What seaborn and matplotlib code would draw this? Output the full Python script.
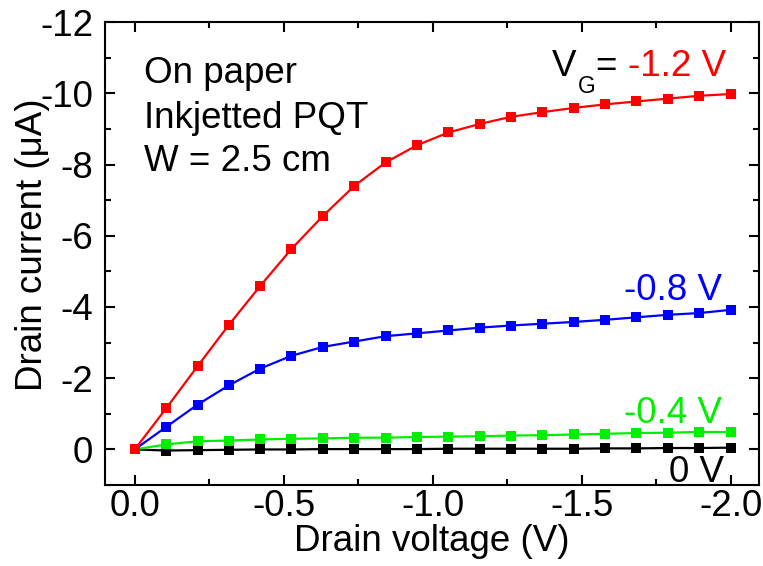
import pandas as pd
import matplotlib
matplotlib.use("Agg")
import matplotlib.pyplot as plt
import seaborn as sns
from matplotlib.ticker import MultipleLocator


# Data (drain current in uA)
drain_voltage = [0.0, -0.105, -0.211, -0.316, -0.421, -0.526, -0.632, -0.737, -0.842, -0.947,
                 -1.053, -1.158, -1.263, -1.368, -1.474, -1.579, -1.684, -1.789, -1.895, -2.0]
gate_labels = ["0 V", "-0.4 V", "-0.8 V", "-1.2 V"]
current_0v = [0.0, 0.03, 0.02, 0.01, 0.0, 0.0, -0.01, -0.01, -0.01, -0.01,
              -0.02, -0.02, -0.02, -0.02, -0.02, -0.03, -0.03, -0.04, -0.04, -0.05]
current_04v = [0.0, -0.14, -0.23, -0.25, -0.28, -0.30, -0.31, -0.33, -0.33, -0.35,
               -0.36, -0.37, -0.39, -0.40, -0.42, -0.44, -0.46, -0.47, -0.49, -0.49]
current_08v = [0.0, -0.63, -1.26, -1.80, -2.27, -2.63, -2.88, -3.03, -3.18, -3.26,
               -3.34, -3.42, -3.48, -3.53, -3.58, -3.64, -3.71, -3.78, -3.83, -3.92]
current_12v = [0.0, -1.15, -2.34, -3.50, -4.59, -5.63, -6.56, -7.40, -8.06, -8.54,
               -8.90, -9.14, -9.34, -9.47, -9.59, -9.69, -9.77, -9.85, -9.93, -9.98]
colors = ["#000000", "#00ee00", "#0000ff", "#ff0000"]

df = pd.DataFrame({
    "vd": drain_voltage * 4,
    "id": current_0v + current_04v + current_08v + current_12v,
    "vg": [g for g in gate_labels for _ in drain_voltage],
})

plt.rcParams["font.family"] = ["Liberation Sans", "DejaVu Sans"]
plt.rcParams["xtick.direction"] = "in"
plt.rcParams["ytick.direction"] = "in"
plt.rcParams["xtick.top"] = True
plt.rcParams["ytick.right"] = True
plt.rcParams["xtick.major.size"] = 7
plt.rcParams["ytick.major.size"] = 7
plt.rcParams["xtick.minor.size"] = 4
plt.rcParams["ytick.minor.size"] = 4
plt.rcParams["xtick.major.width"] = 1.5
plt.rcParams["ytick.major.width"] = 1.5
plt.rcParams["xtick.minor.width"] = 1.5
plt.rcParams["ytick.minor.width"] = 1.5
plt.rcParams["axes.linewidth"] = 1.5

fig = plt.figure(figsize=(7.63, 5.66), dpi=100)
ax = fig.add_axes([0.1376, 0.143, 0.857, 0.818])

sns.lineplot(data=df, x="vd", y="id", hue="vg", hue_order=gate_labels,
             palette=colors, marker="s", markersize=7.5, markeredgewidth=0,
             linewidth=1.6, estimator=None, legend=False, ax=ax)

ax.set_xlim(0.1, -2.095)
ax.set_ylim(1.0, -12)
ax.set_xticks([0, -0.5, -1.0, -1.5, -2.0])
ax.set_xticklabels(["0.0", "-0.5", "-1.0", "-1.5", "-2.0"])
ax.set_yticks([0, -2, -4, -6, -8, -10, -12])
ax.set_yticklabels(["0", "-2", "-4", "-6", "-8", "-10", "-12"])
ax.xaxis.set_minor_locator(MultipleLocator(0.25))
ax.yaxis.set_minor_locator(MultipleLocator(1))
ax.tick_params(which="major", labelsize=26.5)
ax.tick_params(axis="x", which="major", pad=3)
ax.tick_params(axis="y", which="major", pad=8.5)

ax.set_xlabel("Drain voltage (V)", fontsize=26.5, labelpad=0)
ax.set_ylabel("Drain current (\u03bcA)", fontsize=26.5)
ax.yaxis.set_label_coords(-0.084, 0.518)

# annotations
fs = 26.5
ax.text(0.060, 0.868, "On paper", transform=ax.transAxes, fontsize=fs, va="baseline")
ax.text(0.060, 0.771, "Inkjetted PQT", transform=ax.transAxes, fontsize=fs, va="baseline")
ax.text(0.060, 0.678, "W = 2.5 cm", transform=ax.transAxes, fontsize=fs, va="baseline")

ax.text(0.6835, 0.883, "V", transform=ax.transAxes, fontsize=fs, va="baseline")
ax.text(0.7235, 0.8467, "G", transform=ax.transAxes, fontsize=fs * 0.62, va="baseline")
ax.text(0.749, 0.883, "=", transform=ax.transAxes, fontsize=fs, va="baseline")
ax.text(0.800, 0.883, "-1.2 V", transform=ax.transAxes, fontsize=fs,
        color=colors[3], va="baseline")
ax.text(0.943, 0.400, "-0.8 V", transform=ax.transAxes, fontsize=fs,
        color=colors[2], ha="right", va="baseline")
ax.text(0.943, 0.134, "-0.4 V", transform=ax.transAxes, fontsize=fs,
        color=colors[1], ha="right", va="baseline")
ax.text(0.946, 0.0065, "0 V", transform=ax.transAxes, fontsize=fs,
        color=colors[0], ha="right", va="baseline")

fig.savefig("out.png", dpi=100)
